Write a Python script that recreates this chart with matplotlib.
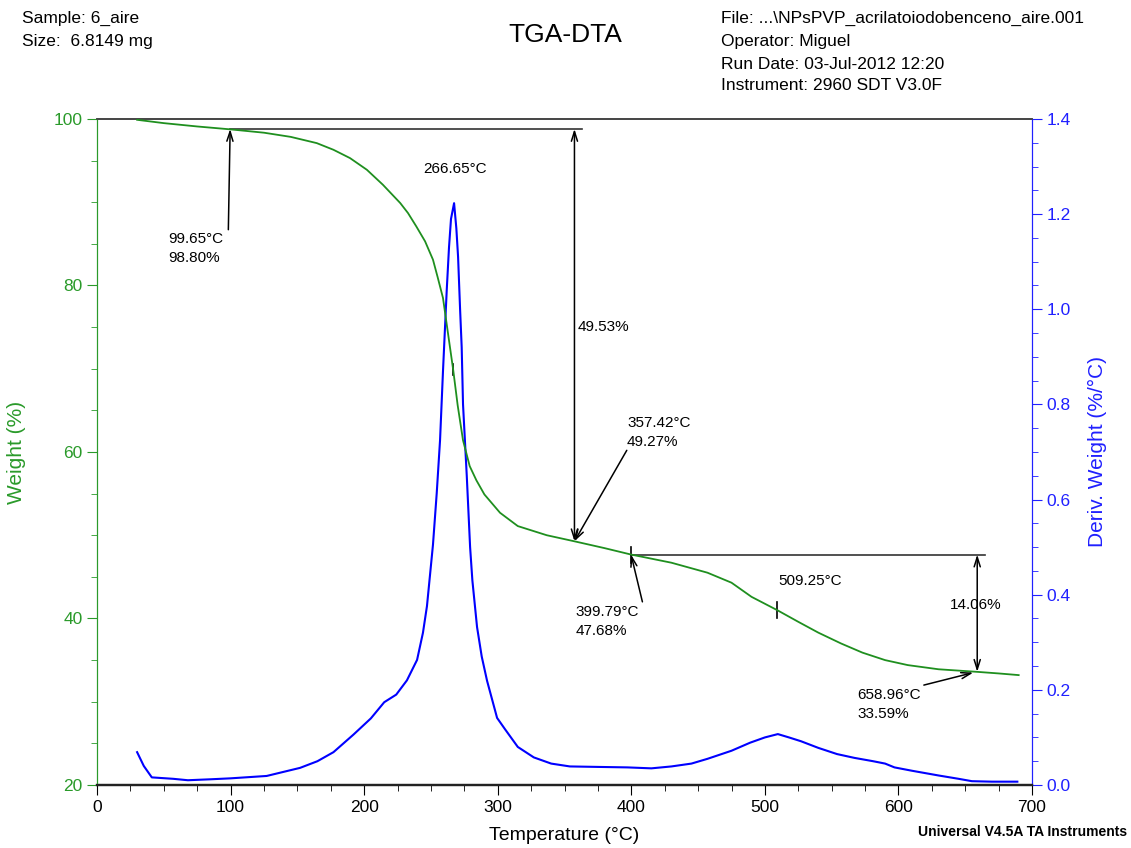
import matplotlib
matplotlib.use("Agg")
import matplotlib.pyplot as plt
from matplotlib.ticker import MultipleLocator

plt.rcParams['font.family'] = ['Liberation Sans', 'DejaVu Sans']

# TGA weight curve
tga_temp = [30, 50, 75, 100, 125, 145, 164.5, 177, 189.4, 202, 214, 227, 232.8, 239, 245.6,
            251.5, 255, 259, 262, 266.65, 270, 274, 279, 284, 290, 301.7, 315, 336.7, 357.42,
            380, 399.79, 430, 457, 475, 490, 509.25, 525, 540, 557, 573, 590, 607, 630, 658.96,
            675, 690]
tga_weight = [99.9, 99.5, 99.1, 98.75, 98.35, 97.85, 97.1, 96.3, 95.3, 93.9, 92.1, 89.9, 88.7,
              87.1, 85.3, 83.1, 81.0, 78.5, 75.1, 69.85, 65.6, 61.4, 58.3, 56.6, 54.9, 52.7,
              51.1, 50.0, 49.27, 48.45, 47.68, 46.7, 45.5, 44.3, 42.6, 41.0, 39.6, 38.3, 37.0,
              35.9, 35.0, 34.4, 33.9, 33.59, 33.4, 33.2]

# derivative curve
dtg_temp = [30, 35, 41, 57, 68, 85, 100, 127, 152, 165, 177, 192, 205, 215, 224, 232, 239.6,
            244, 247, 251.5, 254.3, 256.8, 259, 261.8, 263.5, 265, 267.3, 269, 270.3, 271.8,
            273, 274, 276.8, 279.3, 281, 284.5, 288, 292, 299.5, 305.5, 315, 327, 340, 354,
            375, 397, 415, 430, 445, 457, 475, 489, 500, 509.7, 518, 527, 540, 554, 567, 581,
            590, 597, 610, 630, 645, 655, 670, 689]
dtg_deriv = [0.069, 0.04, 0.016, 0.013, 0.01, 0.012, 0.014, 0.019, 0.036, 0.05, 0.069, 0.106,
             0.14, 0.174, 0.19, 0.22, 0.263, 0.32, 0.376, 0.505, 0.613, 0.725, 0.87, 1.04, 1.13,
             1.19, 1.223, 1.17, 1.11, 1.0, 0.92, 0.8, 0.65, 0.5, 0.43, 0.332, 0.27, 0.219, 0.141,
             0.117, 0.08, 0.058, 0.045, 0.039, 0.038, 0.037, 0.035, 0.039, 0.045, 0.055, 0.072,
             0.089, 0.1, 0.107, 0.1, 0.092, 0.078, 0.065, 0.057, 0.05, 0.045, 0.037, 0.03, 0.02,
             0.013, 0.008, 0.007, 0.007]

green = '#1f8f1f'
tick_green = '#2a9a2a'
blue = '#2020ff'

fig = plt.figure(figsize=(11.31, 8.48), dpi=100)
ax = fig.add_axes([0.0858, 0.0743, 0.8267, 0.7854])
ax2 = ax.twinx()

ax.plot(tga_temp, tga_weight, color=green, lw=1.3, zorder=3)
ax2.plot(dtg_temp, dtg_deriv, color='#0000ff', lw=1.5)

ax.set_xlim(0, 700)
ax.set_ylim(20, 100)
ax2.set_ylim(0, 1.4)
ax.set_zorder(ax2.get_zorder() + 1)
ax.patch.set_visible(False)

ax.xaxis.set_major_locator(MultipleLocator(100))
ax.xaxis.set_minor_locator(MultipleLocator(25))
ax.yaxis.set_major_locator(MultipleLocator(20))
ax.yaxis.set_minor_locator(MultipleLocator(5))
ax2.yaxis.set_major_locator(MultipleLocator(0.2))
ax2.yaxis.set_minor_locator(MultipleLocator(0.05))
ax2.yaxis.set_major_formatter(plt.FuncFormatter(lambda v, p: "%.1f" % v))

ax.tick_params(axis='x', which='major', length=7, labelsize=12.5)
ax.tick_params(axis='x', which='minor', length=4)
ax.tick_params(axis='y', which='major', length=7, colors=tick_green, labelsize=12.5)
ax.tick_params(axis='y', which='minor', length=4, colors=tick_green)
ax2.tick_params(axis='y', which='major', length=7, colors=blue, labelsize=12.5)
ax2.tick_params(axis='y', which='minor', length=4, colors=blue)

for a in (ax, ax2):
    a.spines['left'].set_color(tick_green)
    a.spines['right'].set_color(blue)
    a.spines['top'].set_color('#444444')
    a.spines['bottom'].set_color('#222222')
    a.spines['bottom'].set_linewidth(1.6)
    a.spines['top'].set_linewidth(1.2)

ax.set_xlabel("Temperature (°C)", fontsize=14, labelpad=9)
ax.set_ylabel("Weight (%)", fontsize=15, color=tick_green, labelpad=20)
ax2.set_ylabel("Deriv. Weight (%/°C)", fontsize=15, color=blue, labelpad=12)

# annotations (temperature, weight)
arr = dict(arrowstyle='->,head_length=0.7,head_width=0.22', color='black', lw=1.1,
           shrinkA=0, shrinkB=0)
dbl = dict(arrowstyle='<->,head_length=0.7,head_width=0.22', color='black', lw=1.1,
           shrinkA=0, shrinkB=0)
fs = 11

ax.plot([99.65, 363], [98.8, 98.8], color='#333333', lw=1.2)
ax.plot([399.79, 665], [47.68, 47.68], color='#333333', lw=1.2)
ax.annotate("", xy=(99.65, 98.8), xytext=(98.3, 86.7), arrowprops=arr)
ax.annotate("", xy=(357.42, 98.8), xytext=(357.42, 49.27), arrowprops=dbl)
ax.annotate("", xy=(357.42, 49.27), xytext=(396.6, 60.2), arrowprops=arr)
ax.annotate("", xy=(399.79, 47.68), xytext=(408.3, 42.0), arrowprops=arr)
ax.annotate("", xy=(658.96, 47.68), xytext=(658.96, 33.59), arrowprops=dbl)
ax.annotate("", xy=(656, 33.5), xytext=(619, 32.0), arrowprops=arr)
ax.plot([266.65, 266.65], [69.2, 70.6], color='black', lw=1.2)
ax.plot([509.25, 509.25], [40.0, 42.0], color='black', lw=1.2)
ax.plot([399.79, 399.79], [46.7, 48.6], color='black', lw=1.2)

ax.text(53, 86.4, "99.65°C\n98.80%", fontsize=fs, va='top', ha='left', linespacing=1.45)
ax.text(244, 94.0, "266.65°C", fontsize=fs, va='center', ha='left')
ax.text(360, 75.0, "49.53%", fontsize=fs, va='center', ha='left')
ax.text(396.8, 64.3, "357.42°C\n49.27%", fontsize=fs, va='top', ha='left', linespacing=1.45)
ax.text(358, 41.6, "399.79°C\n47.68%", fontsize=fs, va='top', ha='left', linespacing=1.45)
ax.text(510, 44.5, "509.25°C", fontsize=fs, va='center', ha='left')
ax.text(638.6, 41.6, "14.06%", fontsize=fs, va='center', ha='left')
ax.text(569, 31.65, "658.96°C\n33.59%", fontsize=fs, va='top', ha='left', linespacing=1.45)

# header and footer
fig.text(0.0195, 0.9788, "Sample: 6_aire", fontsize=12.5, va='center')
fig.text(0.0195, 0.9505, "Size:  6.8149 mg", fontsize=12.5, va='center')
fig.text(0.4996, 0.9587, "TGA-DTA", fontsize=19, ha='center', va='center')
info = ["File: ...\\NPsPVP_acrilatoiodobenceno_aire.001", "Operator: Miguel",
        "Run Date: 03-Jul-2012 12:20", "Instrument: 2960 SDT V3.0F"]
for s, y in zip(info, [0.9788, 0.9505, 0.9245, 0.8986]):
    fig.text(0.6375, y, s, fontsize=12.5, va='center')
fig.text(0.997, 0.0189, "Universal V4.5A TA Instruments", fontsize=10, ha='right',
         va='center', fontweight='bold')

fig.savefig("out.png", dpi=100)
